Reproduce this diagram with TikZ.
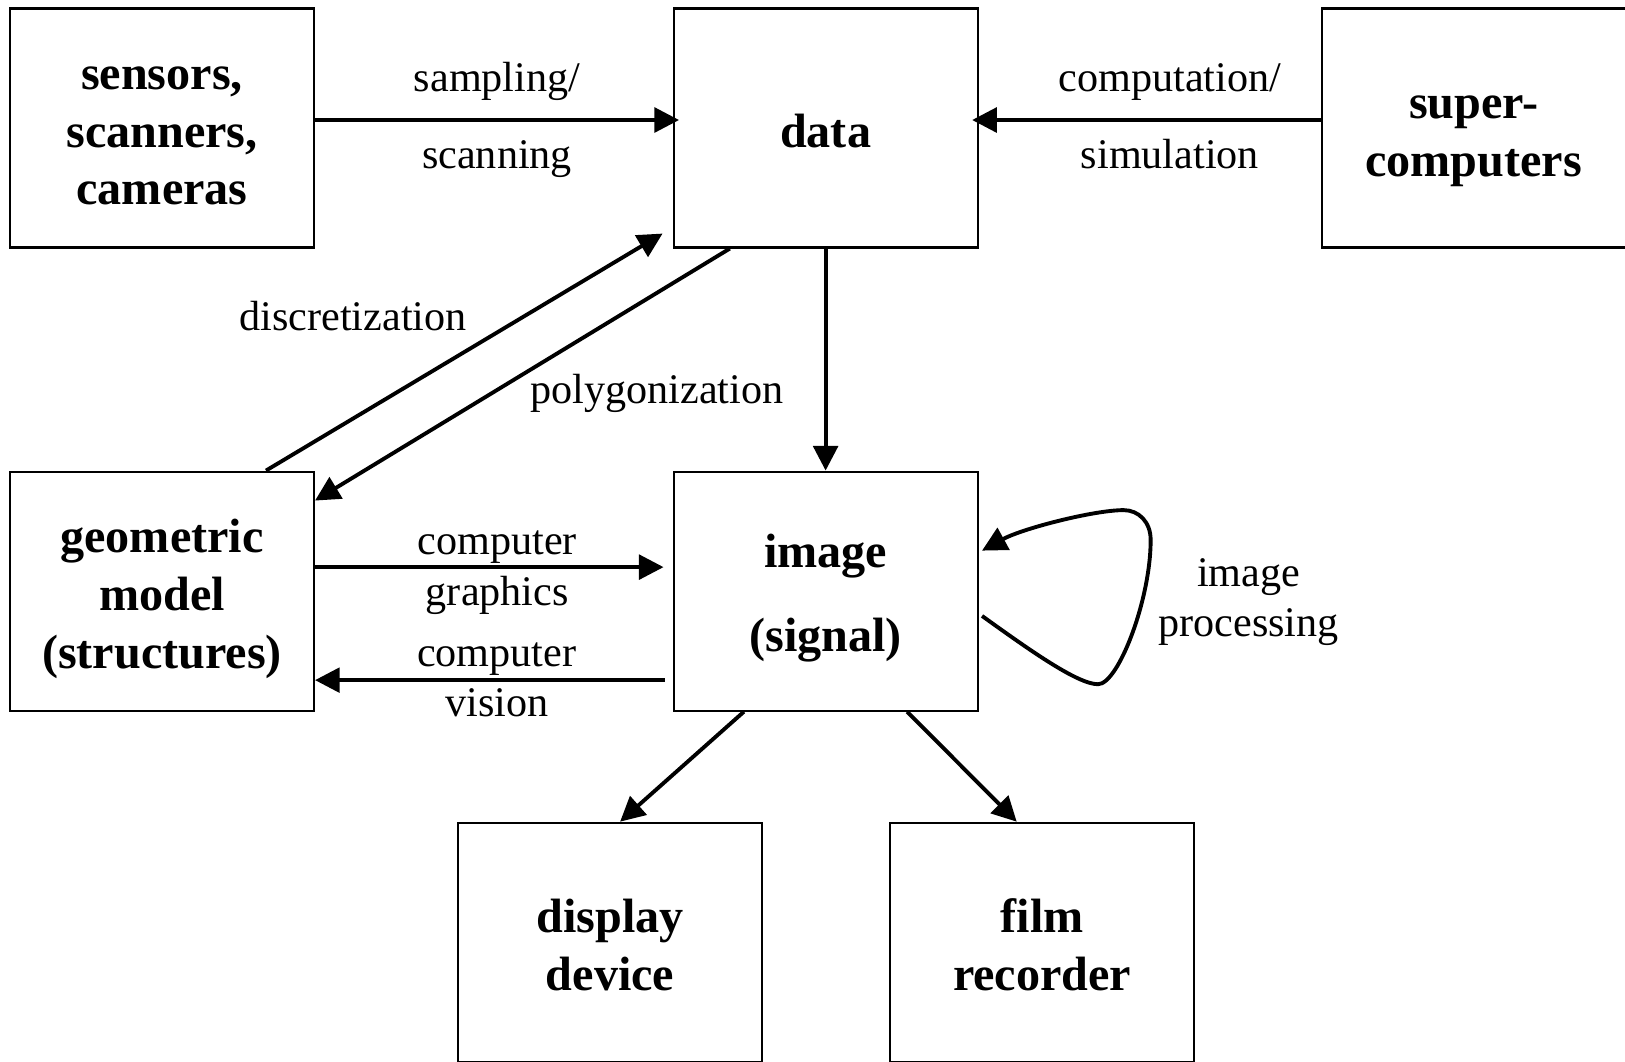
\documentclass[tikz,border=0pt]{standalone}
\usepackage{fontspec}
\setmainfont{Liberation Serif}
\usetikzlibrary{arrows.meta, positioning}
\newcommand{\boxstrut}{\rule{0pt}{0.49cm}}
\newcommand{\boxend}{\rule[-0.104cm]{0pt}{0pt}}
\tikzset{
  block/.style={
    minimum width=3.04cm,
    minimum height=2.39cm,
    inner sep=0pt,
    align=center,
    draw=black,
    line width=0.6pt,
    font=\fontsize{13.7}{16.4}\selectfont\bfseries
  },
  note/.style={
    inner sep=0pt,
    anchor=base,
    font=\fontsize{12}{14.4}\selectfont
  },
  arrow/.style={draw, line width=1.1pt, -{Triangle[length=7pt,width=7pt]}}
}

\begin{document}
\begin{tikzpicture}[every edge/.style={arrow}]
  \useasboundingbox (0,0) rectangle (16.25,-10.61);
  \node (sensors) [block] at (1.62,-1.28) {\boxstrut sensors,\\ scanners,\\ cameras\boxend};
  \node (data) [block, right=3.575cm of sensors] {\boxstrut data\boxend};
  \node (super) [block, right=3.42cm of data] {\boxstrut super-\\ computers\boxend};
  \node (geom) [block, below=2.22cm of sensors] {\boxstrut geometric\\ model\\ (structures)\boxend};
  \node (image) [block, below=2.22cm of data] {\rule{0pt}{0.47cm}image\\[0.26cm] (signal)};
  \node (display) [block, below=1.10cm of image, xshift=-2.155cm] {\boxstrut display\\ device\boxend};
  \node (film) [block, below=1.10cm of image, xshift=2.165cm] {\boxstrut film\\ recorder\boxend};
  \node (disclbl) [note] at (3.53,-3.30) {discretization};
  \node (polylbl) [note] at (6.57,-4.03) {polygonization};
  \node (proclbl) [note] at ([xshift=2.70cm, yshift=0.045cm]image.east) {image};
  \node (proclbl2) [note] at ([xshift=2.70cm, yshift=-0.455cm]image.east) {processing};
  \path
  ([yshift=0.08cm]sensors.east) edge
    node [note, yshift=0.29cm] {sampling/}
    node [note, yshift=-0.485cm] {scanning}
    ([xshift=0.065cm, yshift=0.08cm]data.west)
  ([yshift=0.08cm]super.west) edge
    node [note, xshift=0.235cm, yshift=0.29cm] {computation/}
    node [note, xshift=0.235cm, yshift=-0.485cm] {simulation}
    ([xshift=-0.065cm, yshift=0.08cm]data.east)
  ([xshift=1.04cm]geom.north) edge ([xshift=-0.10cm, yshift=0.15cm]data.south west)
  ([xshift=-0.958cm]data.south) edge ([yshift=-0.30cm]geom.north east)
  (data) edge (image)
  ([yshift=0.24cm]geom.east) edge
    node [note, xshift=0.08cm, yshift=0.123cm] {computer}
    node [note, xshift=0.08cm, yshift=-0.387cm] {graphics}
    ([xshift=-0.09cm, yshift=0.24cm]image.west)
  ([xshift=-0.08cm, yshift=-0.89cm]image.west) edge
    node [note, xshift=0.07cm, yshift=0.133cm] {computer}
    node [note, xshift=0.07cm, yshift=-0.367cm] {vision}
    ([yshift=-0.89cm]geom.east)
  ([xshift=-0.817cm]image.south) edge ([xshift=0.10cm]display.north)
  ([xshift=0.815cm]image.south) edge ([xshift=-0.254cm]film.north)
  ;
  % image processing loop
  \begin{scope}[shift={(image.east)}]
    \draw [arrow] (0.034,-0.248) .. controls (0.534,-0.608) and (0.994,-0.931) .. (1.194,-0.931)
      .. controls (1.394,-0.931) and (1.72,-0.088) .. (1.72,0.512)
      .. controls (1.72,0.692) and (1.60,0.81) .. (1.45,0.81)
      .. controls (1.15,0.81) and (0.434,0.625) .. (0.034,0.405);
  \end{scope}
\end{tikzpicture}
\end{document}
